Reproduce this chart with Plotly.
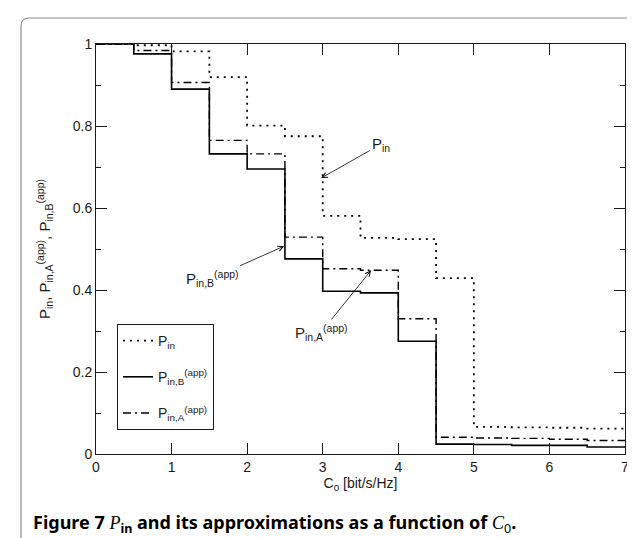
import plotly.graph_objects as go

# ---- data (step edges and step values) ----
c0_edges = [0, 0.5, 1, 1.5, 2, 2.5, 3, 3.5, 4, 4.5, 5, 5.5, 6, 6.5, 7]
p_in = [1.0, 0.997, 0.982, 0.919, 0.801, 0.775, 0.581, 0.527, 0.524, 0.429,
        0.066, 0.065, 0.064, 0.062]
p_in_b_app = [1.0, 0.976, 0.890, 0.732, 0.695, 0.476, 0.397, 0.393, 0.275, 0.024,
              0.023, 0.021, 0.021, 0.017]
p_in_a_app = [1.0, 0.984, 0.906, 0.765, 0.732, 0.529, 0.452, 0.448, 0.330, 0.041,
              0.039, 0.038, 0.036, 0.033]

series_names = ["P<sub>in</sub>", "P<sub>in,B</sub><sup>(app)</sup>", "P<sub>in,A</sub><sup>(app)</sup>"]
series_values = [p_in, p_in_b_app, p_in_a_app]
series_dash = ["2px,5px", "solid", "8px,4px,2px,4px"]
series_width = [1.8, 1.6, 1.4]

x_ticks = [0, 1, 2, 3, 4, 5, 6, 7]
y_ticks = [0, 0.2, 0.4, 0.6, 0.8, 1]

# annotation anchors (data coords of arrow heads) and label texts
ann_labels = ["P<sub>in</sub>", "P<sub>in,B</sub><sup>(app)</sup>", "P<sub>in,A</sub><sup>(app)</sup>"]
ann_heads_x = [2.98, 2.49, 3.64]
ann_heads_y = [0.673, 0.507, 0.448]
ann_off_x = [60, -72, -50]
ann_off_y = [-34, 32, 62]

W, H = 635, 538
L, R, T, B = 88, 18, 36, 92
FONT = "Liberation Sans, Arial, sans-serif"
INK = "#1a1a1a"

fig = go.Figure()
for name, vals, dash, w in zip(series_names, series_values, series_dash, series_width):
    fig.add_trace(go.Scatter(
        x=c0_edges, y=vals + [vals[-1]], mode="lines", name=name,
        line=dict(color="black", width=w, dash=dash, shape="hv"),
        legendgroup=name, hoverinfo="skip"))

for txt, hx, hy, ox, oy in zip(ann_labels, ann_heads_x, ann_heads_y, ann_off_x, ann_off_y):
    fig.add_annotation(x=hx, y=hy, xref="x", yref="y", text=txt, showarrow=True,
                       ax=ox, ay=oy, arrowhead=5, arrowsize=1.3, arrowwidth=0.8,
                       arrowcolor="black", standoff=0, startstandoff=1,
                       font=dict(family=FONT, size=15, color=INK))

# outer rounded frame around figure + caption
pw, ph = W - L - R, H - T - B
def px_x(p):
    return (p - L) / pw
def px_y(p):
    return (H - B - p) / ph
lx, rx_, ty, by = px_x(13), px_x(632), px_y(10), px_y(570)
cr_x, cr_y = 8 / pw, 8 / ph
path = (f"M{lx},{by} L{lx},{ty - cr_y} Q{lx},{ty} {lx + cr_x},{ty} "
        f"L{rx_ - cr_x},{ty} Q{rx_},{ty} {rx_},{ty - cr_y} L{rx_},{by}")
fig.add_shape(type="path", path=path, xref="paper", yref="paper",
              line=dict(color="#8c8c8c", width=1.2), layer="above")

caption = ("<b>Figure 7 </b><span style='font-family:\"Liberation Serif\";font-style:italic'>P</span>"
           "<b><sub>in</sub> and its approximations as a function of </b>"
           "<span style='font-family:\"Liberation Serif\";font-style:italic'>C</span><sub>0</sub><b>.</b>")
fig.add_annotation(x=px_x(23), y=px_y(515), xref="paper", yref="paper", text=caption,
                   showarrow=False, xanchor="left", yanchor="middle",
                   font=dict(family="Noto Sans, sans-serif", size=18, color="black"))

axis_common = dict(showline=True, linecolor=INK, linewidth=1, mirror="ticks",
                   ticks="inside", tickcolor=INK, showgrid=False, zeroline=False,
                   tickfont=dict(family=FONT, size=14, color=INK))
fig.update_xaxes(range=[0, 7], tickvals=x_ticks, ticklen=11,
                 title=dict(text="C<sub>0</sub> [bit/s/Hz]", font=dict(family=FONT, size=14, color=INK), standoff=4),
                 **axis_common)
fig.update_yaxes(range=[0, 1], tickvals=y_ticks, ticklen=11,
                 minor=dict(dtick=0.1, ticks="inside", ticklen=5, tickcolor=INK),
                 title=dict(text="P<sub>in</sub>, P<sub>in,A</sub><sup>(app)</sup>, P<sub>in,B</sub><sup>(app)</sup>",
                            font=dict(family=FONT, size=15, color=INK), standoff=18),
                 **axis_common)

fig.update_layout(
    width=W, height=H, margin=dict(l=L, r=R, t=T, b=B, autoexpand=False),
    paper_bgcolor="white", plot_bgcolor="white",
    showlegend=True,
    legend=dict(x=px_x(109), y=px_y(316), xanchor="left", yanchor="top",
                bordercolor=INK, borderwidth=1, bgcolor="white",
                font=dict(family=FONT, size=14, color=INK),
                traceorder="grouped", tracegroupgap=15, itemwidth=30),
)

fig.write_html("out.html")
